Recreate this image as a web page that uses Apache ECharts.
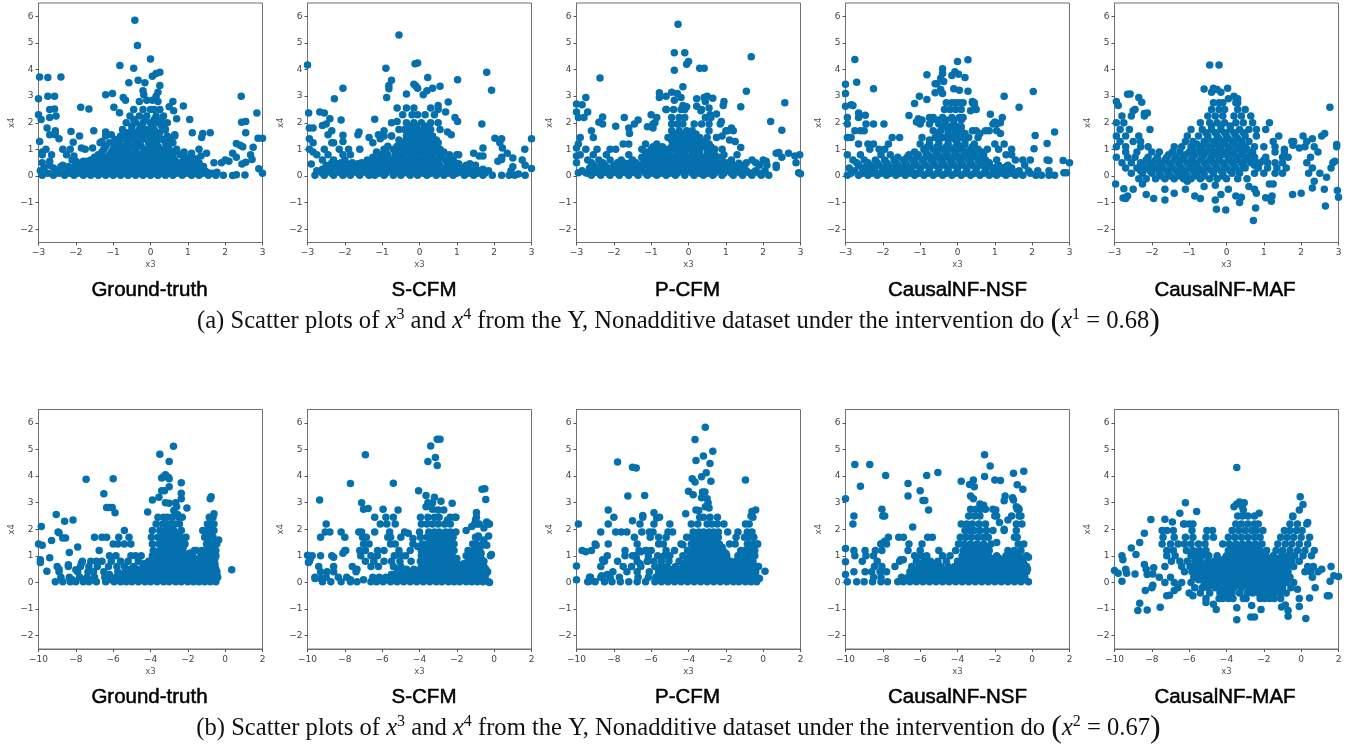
<!DOCTYPE html>
<html><head><meta charset="utf-8">
<style>html,body{margin:0;padding:0;background:#fff}#c{width:1356px;height:747px}</style>
<script src="https://cdn.jsdelivr.net/npm/echarts@6/dist/echarts.min.js"></script></head>
<body><div id="c"></div>
<script>
const methods=['Ground-truth','S-CFM','P-CFM','CausalNF-NSF','CausalNF-MAF'];
const xTicksA=[-3,-2,-1,0,1,2,3];
const xTicksB=[-10,-8,-6,-4,-2,0,2];
const yTicks=[-2,-1,0,1,2,3,4,5,6];
// each row: first value is x4, the rest are x3 readings in that x4 strip
const gtARows=[[.03,-2.9,-2.6,-2.3,-2.05,-1.8,-1.6,-1.4,-1.2,-1,-.8,-.6,-.4,-.2,0,.2,.4,.6,.85,1.1,1.3,1.55,1.75,1.95],
[.2,-2.95,-2.5,-2.2,-1.9,-1.7,-1.45,-1.25,-1.05,-.85,-.65,-.45,-.25,-.05,.15,.35,.55,.75,1,1.2,1.45],
[.4,-2.7,-2.35,-2,-1.75,-1.5,-1.3,-1.1,-.9,-.7,-.5,-.3,-.1,.1,.3,.5,.7,1.05,1.25],
[.6,-2.1,-1.6,-1.35,-1.15,-.95,-.75,-.55,-.35,-.15,.05,.25,.45,.65,1,1.15],
[.8,-2.9,-2.65,-2.25,-1.4,-1.1,-.9,-.7,-.5,-.3,-.1,.15,.35,.55,.8],
[1,-2.8,-2.35,-2.15,-1.75,-1.25,-1,-.8,-.6,-.4,-.15,.1,.3,.5,.7],
[1.25,-1.35,-1.1,-.85,-.6,-.35,-.05,.15,.4,.6],
[1.5,-1.2,-.8,-.55,-.3,-.05,.15,.45,.65],
[1.75,-.75,-.5,-.3,-.1,.1,.4],
[2,-.65,-.4,-.2,0,.2,.45],
[2.25,-.55,-.3,-.1,.15,.35],
[2.5,-.45,-.2,0,.1,.25]];
const gtAFill=[[.1,-2.75,-2.45,-2.15,-1.95,-1.7,-1.5,-1.3,-1.1,-.9,-.7,-.5,-.3,-.1,.1,.3,.5,.7,.95,1.2,1.4,1.65],
[.3,-2.85,-2.6,-2.1,-1.85,-1.6,-1.4,-1.15,-.95,-.75,-.55,-.35,-.15,.05,.25,.45,.65,.9,1.1,1.35],
[.5,-1.95,-1.45,-1.25,-1.05,-.85,-.65,-.45,-.25,-.05,.15,.35,.55,.75,1.15,1.3],
[.7,-1.5,-1.25,-1.05,-.85,-.6,-.4,-.2,0,.2,.4,.6,.9,1.05],
[.9,-1.3,-1.05,-.85,-.65,-.4,-.2,0,.25,.45,.65],
[1.12,-1.2,-.95,-.7,-.5,-.25,0,.2,.45],
[1.38,-.95,-.7,-.45,-.2,.05,.3,.5],
[1.62,-.65,-.4,-.2,0,.25],
[1.88,-.5,-.25,.05,.3],
[2.12,-.45,-.15,.1,.3],
[.14,-2.55,-2.28,-2,-1.78,-1.55,-1.35,.85,1.08,1.32,1.52,1.78],
[.36,-2.4,-2.2,-1.95,-1.68,-1.45,.82,1,1.2,1.42],
[.55,-1.8,-1.7,-1.55,.88,1.08]];
const gtAPts=[[-.42,5.85],[-.35,4.9],[0,4.4],[-.82,4.15],[-.45,4.05],[-2.97,3.72],[-2.75,3.7],[-2.4,3.72],[-.58,3.5],[-.33,3.6],[-.15,3.5],[.05,3.75],[.15,3.85],[.25,3.9],[.25,3.4],[-2.75,3],[-2.57,3],[-2.7,2.5],[-2.57,2.52],[-2.7,2.2],[-2.53,2.25],[-2.93,2.12],[-3,2.3],[-3,2.9],[-2.77,1.8],[-2.55,1.7],[-2.7,1.55],[-2.55,1.55],[-2.45,1.4],[-2.97,1.3],[-1.87,2.58],[-1.65,2.52],[-1.52,1.7],[-2.13,1.67],[-1.9,1.5],[-2.07,1.27],[-1.2,3.05],[-1.02,3.1],[-.73,2.95],[-.67,2.85],[-.98,2.58],[-.83,2.38],[-.2,3.2],[-.18,3.05],[.2,3.15],[.15,3],[-.3,2.8],[-.1,2.85],[.05,2.85],[.2,2.8],[.5,2.6],[.6,2.8],[.88,2.63],[.62,2.45],[.7,2.15],[1.05,2.12],[1.12,1.62],[1.37,1.45],[1.4,1.6],[1.6,1.62],[2.43,3],[2.44,2.02],[2.55,2.05],[2.55,1.62],[2.85,2.37],[2.88,1.42],[3,1.42],[2.75,1.08],[2.3,1.22],[2.4,1.15],[2.47,1.1],[2.68,.8],[2.72,.62],[2.2,.85],[2.1,.55],[2,.6],[1.9,.5],[1.7,.5],[2.3,.7],[2.55,.52],[2.45,.45],[2.53,.04],[2.9,.27],[3,.1],[2.3,.05],[2.2,.02],[1.3,1],[1.5,.85],[1.1,.85],[.9,.9],[.65,1.55],[-1.55,1.05],[-1.85,1.05],[-1.3,1.3],[-1.2,1.65],[-1.05,1.55],[-2.9,.9],[-2.9,.5],[-2.7,.55],[-2.05,.75],[-2,.55],[1.35,.75],[1.2,.65]];
const scfmARows=[[.03,-2.8,-2.55,-2.3,-2.05,-1.85,-1.6,-1.35,-1.2,-.95,-.7,-.5,-.25,-.05,.2,.45,.65,.9,1.2,1.45,1.7,1.95,2.2,2.4],
[.2,-2.75,-2.4,-2.15,-1.95,-1.7,-1.45,-1.2,-1,-.8,-.6,-.4,-.2,0,.2,.4,.6,.85,1.1,1.35,1.6,1.85],
[.4,-2.5,-2.25,-2,-1.75,-1.5,-1.25,-1.05,-.85,-.65,-.45,-.25,-.05,.15,.35,.55,.75,.95,1.25,1.5],
[.6,-2.6,-2.3,-2,-1.4,-1.15,-.95,-.75,-.55,-.35,-.15,.05,.25,.45,.7,.9],
[.8,-2.75,-2.45,-2.05,-1.85,-1.05,-.85,-.65,-.45,-.25,-.05,.15,.35,.55,.8,1],
[1,-2.95,-2.55,-2.15,-1.9,-1.6,-.95,-.7,-.5,-.3,-.1,.1,.3,.55],
[1.25,-2.85,-2.35,-1.25,-.45,-.25,-.05,.15,.35,.5],
[1.5,-.95,-.75,-.35,-.2,0,.2,.35],
[1.75,-.4,-.2,-.05,.1,.3,.55],
[2,-.35,-.15,.05,.3,.5],
[2.3,-.45,-.2,-.05,.15,.4],
[2.55,-.6,-.35,-.15,.3]];
const scfmAFill=[[.1,-2.6,-2.35,-2.1,-1.9,-1.65,-1.4,-1.1,-.9,-.7,-.45,-.3,-.1,.1,.3,.5,.75,1,1.3,1.55,1.75],
[.3,-2.4,-2.2,-1.85,-1.6,-1.35,-1.1,-.9,-.7,-.5,-.3,-.1,.1,.3,.5,.7,.9,1.15,1.4],
[.5,-2.35,-2.1,-1.8,-1.55,-1.3,-1.1,-.9,-.7,-.5,-.3,-.1,.1,.3,.5,.75,.95],
[.7,-1.25,-1.05,-.85,-.65,-.45,-.25,-.05,.15,.35,.6,.8],
[.9,-1.15,-.9,-.6,-.4,-.2,0,.2,.45,.65],
[1.12,-.85,-.6,-.35,-.15,.05,.25,.45],
[1.35,-.55,-.35,-.15,.05,.25,.45],
[1.6,-.3,-.1,.1,.25],
[1.88,-.25,-.1,.15],
[.14,-2.5,-2.25,-2,-1.8,-1.55,-1.3,.85,1.05,1.25],
[.25,-2.6,-2.3,-2.05,-1.8,-1.55,.95,1.2,1.45,1.7],
[.46,-2.2,-1.95,-1.65,-1.4,.85,1.05,1.35]];
const scfmAPts=[[-.55,5.3],[-3,4.17],[-.9,4.05],[-.12,4.22],[-.05,4.25],[1.02,3.62],[1.8,3.9],[1.93,3.22],[.22,3.7],[-.75,3.6],[-.82,3.4],[-.82,3.28],[-.88,2.95],[-.35,3.08],[-.15,3.45],[-.1,3.38],[-.05,3.3],[.1,3.05],[.2,3.2],[.35,3.3],[.55,3.37],[-2.05,3.3],[-2.28,2.9],[-2.97,2.37],[-2.67,2.4],[-2.55,2.37],[-2.4,2.15],[-2.1,2.1],[-2.5,1.95],[-2.6,1.9],[-2.35,1.7],[-2.45,1.55],[-2.95,1.8],[-2.85,1.8],[-2.05,1.53],[-1.62,1.65],[-1.65,1.55],[-1.2,2.13],[-.75,2],[-.6,2.05],[-.55,1.75],[.77,2.78],[.7,2.4],[.5,2.65],[.5,2.5],[.95,2.2],[1.02,2.05],[.85,1.55],[.75,1.65],[1.67,1.95],[2.02,1.42],[2.2,1.4],[2.15,1.25],[2.22,1.05],[1.7,1.05],[2.82,1],[3,1.4],[3,.28],[2.75,.6],[2.83,.4],[2.83,.03],[2.55,.03],[2.65,.07],[2.5,.68],[2.35,.85],[2.2,.7],[2.1,.55],[2.2,.62],[2.5,.35],[2.45,.2],[1.45,.85],[1.6,.75],[1.7,.75],[1.05,.8],[-2.95,1.4],[-2.9,.45],[-2.85,.9],[-.95,1.7],[-.75,1.5],[-1.1,1.55],[-1.05,1.4],[-1.35,1.45],[-2.3,1.25],[-2.05,1.3]];
const pcfmARows=[[.03,-2.6,-2.35,-2.1,-1.85,-1.6,-1.35,-1.1,-.85,-.6,-.35,-.1,.15,.4,.65,.9,1.2,1.45,1.7,1.95,2.15],
[.2,-2.85,-2.5,-2.2,-1.95,-1.7,-1.45,-1.2,-1,-.8,-.6,-.4,-.2,0,.2,.4,.6,.8,1,1.3,1.55,1.8,2.05],
[.4,-2.55,-2.25,-2,-1.75,-1.5,-1.25,-1.05,-.85,-.65,-.45,-.25,-.05,.15,.35,.55,.75,.95,1.2,1.5,1.9,2.1,2.35],
[.6,-2.7,-2.4,-2.1,-1.8,-1.5,-1.15,-.95,-.75,-.55,-.35,-.15,.05,.25,.45,.65,.9,1.15,1.7,2],
[.8,-2.9,-2.55,-2.2,-1.6,-1.1,-.9,-.7,-.5,-.3,-.1,.1,.3,.5,.7,.95,1.3],
[1,-2.75,-2.45,-2.1,-1.95,-1.25,-1,-.8,-.6,-.35,-.15,.05,.25,.5,.7,.9],
[1.2,-2.95,-1.75,-1.6,-1.15,-.85,-.3,-.15,.05,.2,.45,.55],
[1.45,-2.9,-2.55,-.55,-.35,-.1,.1,.3,.5,.75],
[1.7,-2.6,-.45,-.25,-.05,.1,.55,1.05,1.2],
[1.95,-1.45,-.95,-.45,-.3,-.15,.15,.35,.55,.85],
[2.2,-2.95,-2.8,-.85,-.45,-.25,-.1,.45,.6],
[2.5,-.6,-.4,-.2,-.1,.35]];
const pcfmAFill=[[.1,-2.7,-2.4,-2.15,-1.9,-1.65,-1.4,-1.15,-.95,-.75,-.5,-.3,-.1,.1,.3,.5,.7,.95,1.15,1.4,1.65,1.9],
[.3,-2.65,-2.35,-2.05,-1.8,-1.55,-1.3,-1.1,-.9,-.7,-.5,-.3,-.1,.1,.3,.5,.7,.9,1.1,1.4],
[.5,-2.6,-2.3,-1.9,-1.4,-1.2,-1,-.8,-.6,-.4,-.2,0,.2,.4,.6,.8,1.05],
[.7,-1.25,-1.05,-.85,-.65,-.45,-.25,-.05,.15,.35,.55,.8],
[.9,-1.15,-.95,-.75,-.5,-.3,-.1,.1,.3,.6],
[1.1,-.95,-.7,-.45,-.25,-.05,.15,.35,.6],
[1.32,-.45,-.25,-.05,.15,.35],
[1.58,-.4,-.2,0,.2],
[.14,-2.5,-2.25,-2,-1.75,-1.5,.95,1.25,1.5,1.75],
[.34,-2.45,-2.2,-1.95,-1.65,-1.45,1,1.25],
[.48,-1.7,-1.6,1.15,1.35]];
const pcfmAPts=[[-.28,5.7],[-.38,4.63],[-.1,4.63],[1.68,4.48],[-.05,4.2],[0,4.3],[-.38,3.97],[.3,4.05],[.42,4.05],[-2.37,3.68],[-.15,3.35],[-.78,3.13],[-.45,3.15],[-.3,3.1],[-.78,2.95],[-.6,3],[1.55,3.18],[2.58,2.75],[-2.75,2.95],[-3,2.7],[-2.85,2.68],[-2.7,2.4],[-3,2.4],[-2.3,2.22],[-2.4,2.02],[-2.3,1.95],[-1.72,2.2],[-1.35,2.1],[-1.95,1.87],[-1.6,1.8],[-1.58,1.6],[-1,2.3],[-1.1,1.85],[-.6,2.5],[-.38,2.85],[-.2,2.95],[-.15,2.65],[-.05,2.6],[.22,2.9],[.22,2.62],[.33,2.45],[.42,2.95],[.5,3],[.45,2.8],[.65,2.92],[.55,2.55],[.95,2.8],[.93,2.65],[1.4,2.6],[.75,2.33],[.58,2.3],[.88,2.05],[2.2,2.05],[2.5,1.72],[1,1.7],[1.15,1.8],[1.25,1.3],[1.4,1.07],[1.1,1.35],[2.35,.85],[2.42,.88],[2.5,.7],[2.68,.85],[2.85,.75],[2.98,.8],[2.88,.5],[2.95,.12],[3,.08],[2.35,.32],[2.08,.55],[1.8,.5],[1.55,.5],[-3,1.05],[-3,.75],[-3,.5],[-2.75,.12],[-2.95,.12],[-.95,1.8],[-.9,2],[.9,1.5]];
const nsfARows=[[.03,-2.95,-2.65,-2.4,-2.15,-1.9,-1.65,-1.4,-1.15,-.9,-.65,-.4,-.15,.1,.35,.6,.85,1.05,1.3,1.55,1.75,2.1,2.25,2.45,2.6],
[.2,-2.75,-2.5,-2.25,-2,-1.75,-1.5,-1.25,-1,-.75,-.5,-.25,0,.25,.5,.75,1,1.25,1.45,1.65,1.9,2.15,2.45],
[.4,-2.65,-2.35,-2.1,-1.85,-1.6,-1.35,-1.1,-.85,-.6,-.35,-.1,.15,.4,.65,.85,1.1,1.35,1.8],
[.6,-2.8,-2.5,-2.2,-1.95,-1.7,-1.45,-1.2,-.95,-.7,-.45,-.2,.05,.3,.55,.75,1.05,1.55,1.75,1.95],
[.8,-2.95,-2.6,-2.05,-1.8,-1.3,-1.05,-.8,-.55,-.3,-.05,.2,.45,.7,1.3,1.45],
[1,-2.35,-2.1,-1.95,-.9,-.65,-.4,-.15,.1,.35,.55,.8,1.1,1.45],
[1.2,-2.65,-2.4,-2.25,-1.85,-1,-.75,-.5,-.25,0,.2,.45,1,1.25],
[1.45,-2.95,-2.85,-1.75,-1.55,-.95,-.6,-.4,-.15,.05,.3,.55],
[1.7,-2.75,-2.6,-2.5,-.65,-.45,-.25,-.05,.1,.4,.5,.75],
[1.95,-2.95,-2.45,-2.25,-1.97,-1,-.75,-.5,-.35,-.1,.95,1.05],
[2.2,-2.65,-.65,-.4,-.15,.05,.15,1.2],
[2.5,-.35,-.2,-.05,.1,.5],
[2.75,-.3,-.15,-.05,.05,.15,.4,.45]];
const nsfAFill=[[.1,-2.85,-2.55,-2.3,-2.05,-1.8,-1.55,-1.3,-1.05,-.8,-.55,-.3,-.05,.2,.45,.7,.95,1.2,1.4,1.65,1.95],
[.3,-2.9,-2.55,-2.3,-2,-1.75,-1.5,-1.25,-1,-.75,-.5,-.25,0,.25,.5,.75,.95,1.2,1.45],
[.5,-2.7,-2.4,-2.15,-1.9,-1.65,-1.4,-1.15,-.9,-.65,-.4,-.15,.1,.35,.6,.85],
[.7,-1.6,-1.35,-1.1,-.85,-.6,-.35,-.1,.15,.4,.6],
[.9,-1.15,-.85,-.55,-.3,-.05,.2,.4,.65],
[1.1,-.8,-.55,-.3,-.05,.15,.4],
[1.35,-.75,-.5,-.25,-.05,.2],
[1.6,-.55,-.25,-.05,.2],
[1.85,-.4,-.2,0,.1],
[2.1,-.3,-.1,.1],
[.14,-2.45,-2.2,-1.95,-1.7,-1.45,-1.2,1.1,1.3,1.55],
[.35,-2.45,-2.2,-1.9,-1.65,-1.4,.85,1.05,1.3],
[.72,-.7,-.45,-.2,.05,.3]];
const nsfAPts=[[-2.75,4.38],[.28,4.37],[0,4.3],[-.4,4.03],[-.4,3.85],[-.07,3.92],[.03,3.82],[-.15,3.78],[.2,3.7],[-.45,3.67],[-.37,3.55],[-.82,3.8],[-2.7,3.52],[-3,3.45],[-3,3.1],[-.6,3.47],[-.55,3.47],[-.45,3.25],[-.4,3.1],[-.6,3.13],[-.1,3.28],[.05,3.22],[.28,3.18],[-2.25,3.28],[-1.02,3],[-.82,2.87],[-1.15,2.72],[.4,2.8],[.45,2.68],[.48,2.52],[-2.85,2.68],[-2.8,2.65],[-3,2.62],[-2.65,2.37],[-2.47,2.28],[-2.95,2.2],[-1.3,2.27],[-1.1,2.03],[-1.05,2.15],[.88,2.32],[1,2.03],[1.15,2],[1.25,3],[2.03,3.17],[1.65,2.58],[2.6,1.65],[1.15,1.6],[2.08,1.52],[2.05,1.02],[2.4,1.22],[2.4,.6],[2.45,.58],[2.83,.58],[3,.5],[2.85,.12],[2.92,.12],[1.05,1.7],[.85,1.7],[-.95,2.1],[-.75,2.2],[-.7,2.1],[-.55,2.1],[.35,2.45],[.6,1.6]];
const mafARows=[[-.1,-2.35,-2.15,-1.9,-1.65,-1.4,-1.15,-.95,-.7,-.45,-.25,0,.3,.55],
[.1,-2.55,-2.25,-2,-1.8,-1.55,-1.3,-1.1,-.8,-.6,-.35,-.1,.15,.35,.75,1,1.3,1.5,2.2,2.5],
[.3,-2.7,-2.4,-2.15,-1.9,-1.7,-1.45,-1.2,-1,-.75,-.5,-.25,0,.25,.5,.85,1.1,1.35,1.6,2.3,2.8],
[.5,-2.8,-2.55,-2.3,-2.05,-1.8,-1.55,-1.3,-1.05,-.85,-.6,-.35,-.1,.15,.4,.65,.9,1.1,1.3,1.5,2.15,2.85],
[.7,-2.95,-2.65,-2.45,-2.1,-1.85,-1.6,-1.35,-1.15,-.9,-.65,-.4,-.2,.05,.3,.55,.75,1.05,1.5,1.65,2.25],
[.9,-2.7,-2.4,-2,-1.8,-1.45,-1.25,-1,-.75,-.5,-.25,0,.2,.45,.7,1.3,1.55,2.45],
[1.1,-2.95,-2.7,-2.3,-2.1,-1.4,-1.2,-.95,-.7,-.45,-.2,.05,.3,.5,.75,1,1.3,2.1,2.35,2.95],
[1.3,-2.85,-2.5,-2.3,-1.1,-.9,-.6,-.35,-.1,.15,.4,.6,1.25,1.75,2.15],
[1.5,-2.95,-2.7,-2.35,-1.05,-.75,-.5,-.25,0,.25,.5,.8,1.4,2.05,2.55],
[1.75,-2.85,-2.6,-2.05,-.95,-.65,-.4,-.15,.1,.35,.6,.8,1.05],
[2,-2.95,-2.75,-.7,-.45,-.25,-.05,.25,.45,.7,1.15],
[2.25,-2.8,-2.55,-2.2,-.5,-.3,-.1,.2,.4,.65],
[2.5,-2.45,-.4,-.2,-.05,.3,.5],
[2.75,-.35,-.2,-.1,.25,.3]];
const mafAFill=[[.2,-2.3,-2.05,-1.8,-1.6,-1.35,-1.15,-.9,-.65,-.4,-.15,.1,.35],
[.4,-2.25,-2,-1.75,-1.5,-1.25,-1,-.8,-.55,-.3,-.05,.2,.45,.75],
[.6,-2.15,-1.9,-1.65,-1.4,-1.2,-.95,-.7,-.45,-.2,.05,.25,.5,.75,1],
[.8,-1.1,-.85,-.6,-.35,-.1,.15,.4,.65],
[1,-.9,-.65,-.4,-.15,.1,.35,.55],
[1.2,-.8,-.55,-.3,-.05,.2,.4],
[0,-1.75,-1.5,-1.25,-1.05,-.85,-.6,-.1],
[1.4,-.5,-.2,.05,.3],
[1.62,-.55,-.3,-.05,.2,.45],
[1.88,-.4,-.15,.1]];
const mafAPts=[[-.45,4.17],[-.2,4.17],[-.35,3.3],[-.25,3.25],[-.6,3.27],[-.4,3.15],[-.15,3.15],[.03,3.3],[.2,3],[.3,2.9],[.05,2.9],[-2.65,3.07],[-2.58,3.08],[-2.35,2.95],[-2.27,2.77],[-2.95,2.8],[-2.9,2.65],[-2.5,2.45],[-2.2,2.35],[-2.12,2.37],[2.77,2.58],[2.63,1.6],[2.95,1.18],[2.9,.55],[-1.05,-.2],[-.6,-.4],[-.3,-.35],[-.7,-.85],[-.85,-.75],[-1.1,-.5],[-1.4,-.65],[-1.65,-.9],[-1.95,-.85],[-2.15,-.7],[-2.65,-.75],[-2.7,-.85],[-2.77,-.83],[-2.97,-.3],[-2.75,-.48],[-2.5,-.5],[-1.65,-.5],[-2.25,-.3],[-.3,-.9],[-.27,-1.25],[-.02,-1.28],[-.15,-.7],[.05,-.5],[.25,-.75],[.35,-1],[.4,-.8],[.6,-.4],[.75,-.5],[.8,-.65],[.78,-1.2],[.72,-1.67],[1.05,-.82],[1.2,-.95],[1.22,-.75],[1.15,-.3],[1.25,-.3],[1.77,-.7],[2,-.65],[2.35,-.2],[2.3,-.45],[2.62,-.5],[2.65,-1.13],[2.68,-.05],[2.97,-.55],[3,-.8],[-1.55,.8],[1.8,1.3],[1.78,1.15],[1.55,1],[1.95,1.05],[2.3,1.4]];
const gtBRows=[[.03,-9.1,-8.7,-8.3,-8,-7.6,-7.3,-6.9,-6.4,-5.95,-5.6,-5.3,-5,-4.65,-4.3,-4,-3.65,-3.3,-3,-2.65,-2.35,-2,-1.7,-1.4,-1.1,-.8,-.5],
[.2,-8.8,-8.35,-7.8,-7.4,-7,-6.45,-5.85,-5.4,-5.05,-4.7,-4.4,-4.05,-3.7,-3.35,-3.05,-2.75,-2.45,-2.1,-1.8,-1.5,-1.2,-.9,-.6,-.4],
[.4,-8.9,-7.9,-7.35,-7.05,-6.5,-5.75,-5.35,-5,-4.6,-4.25,-3.9,-3.55,-3.2,-2.9,-2.55,-2.25,-1.95,-1.65,-1.35,-1.05,-.75,-.45],
[.6,-9,-8.4,-7.75,-7.3,-6.85,-6.25,-5.8,-5.4,-4.9,-4.4,-4,-3.7,-3.4,-3.05,-2.7,-2.4,-2.1,-1.8,-1.5,-1.15,-.85,-.55],
[.8,-7.65,-7.2,-6.9,-6.6,-6.1,-5.6,-5.2,-4.65,-4.1,-3.75,-3.45,-3.1,-2.75,-2.45,-2.15,-1.85,-1.6,-1.2,-.95,-.65],
[1,-6.2,-5.85,-5.05,-4.8,-4.5,-3.9,-3.6,-3.3,-3,-2.7,-2.4,-2.1,-1.75,-1.3,-1,-.7,-.5],
[1.2,-6.75,-3.85,-3.5,-3.25,-2.95,-2.6,-2.3,-1.65,-1.25,-1,-.75,-.5],
[1.45,-6,-5.75,-5.4,-5.05,-3.9,-3.55,-3.25,-3,-2.7,-2.4,-2.15,-1,-.8,-.45],
[1.7,-7,-6.6,-6.35,-5.7,-5.15,-3.95,-3.6,-3.3,-3.05,-2.75,-2.4,-2.1,-1.1,-.85,-.65],
[1.95,-5.4,-3.9,-3.5,-3.2,-3,-2.75,-2.35,-1.2,-.95,-.75,-.6],
[2.2,-3.7,-3.35,-3.15,-2.9,-2.7,-2.45,-.95,-.8,-.6],
[2.45,-3.6,-3.3,-3.1,-2.85,-2.5,-2.3,-.85,-.65]];
const gtBFill=[[.1,-4.9,-4.55,-4.2,-3.85,-3.5,-3.15,-2.85,-2.5,-2.2,-1.85,-1.55,-1.25,-.95,-.65,-6.1,-5.7,-5.35,-7.5,-7.1,-8.2],
[.3,-4.8,-4.5,-4.15,-3.8,-3.5,-3.15,-2.8,-2.5,-2.2,-1.9,-1.6,-1.25,-.95,-.65,-.45,-5.55,-5.15,-6.2],
[.5,-4.3,-3.95,-3.65,-3.3,-3,-2.65,-2.3,-2,-1.7,-1.4,-1.1,-.8,-.5,-4.7,-5.1],
[.7,-3.95,-3.55,-3.25,-2.9,-2.6,-2.3,-2,-1.7,-1.4,-1.1,-.8,-.55,-4.35],
[.9,-3.85,-3.5,-3.2,-2.9,-2.6,-2.3,-2,-1.65,-1.35,-1.05,-.8,-.55],
[1.1,-3.7,-3.4,-3.1,-2.8,-2.5,-2.2,-1.85,-1.1,-.85,-.6],
[1.32,-3.4,-3.1,-2.8,-2.5,-2.25,-.85,-.65],
[1.58,-3.4,-3.1,-2.85,-2.55,-2.25,-.9,-.7],
[1.85,-3.35,-3.1,-2.85,-2.6]];
const gtBPts=[[-2.77,5.12],[-3.5,4.82],[-3,4.55],[-7.45,3.88],[-6,3.9],[-3.4,3.93],[-3.3,3.97],[-3.2,4.05],[-3.05,3.95],[-3,3.9],[-2.35,3.75],[-3,3.6],[-3.4,3.45],[-3.25,3.45],[-6.5,3.33],[-2.35,3.35],[-2.35,3.15],[-3.55,3.2],[-3.9,3.1],[-.75,3.22],[-.8,3.15],[-3.2,3],[-3,2.98],[-2.65,3],[-2.6,2.85],[-6.35,2.82],[-6.2,2.82],[-6.05,2.82],[-5.9,2.62],[-2.05,2.8],[-4.15,2.65],[-2.75,2.7],[-2.55,2.55],[-.6,2.58],[-9.05,2.55],[-8.6,2.3],[-8.15,2.35],[-9.85,2.1],[-8.95,1.9],[-8.9,1.87],[-8.7,1.67],[-8.55,1.67],[-9.3,1.58],[-10,1.45],[-9.8,1.4],[-7.9,1.33],[-8.35,1.13],[-9.9,.85],[-9.9,.75],[-9.4,.93],[-9.55,.42],[-8.4,.67],[-8,.48],[.35,.48],[-.35,1.6],[-1.9,1.1],[-1.55,1.2],[-7.7,.72],[-8.9,.5]];
const scfmBRows=[[.03,-9.2,-8.75,-8.2,-7.7,-7.35,-6.6,-6.3,-5.95,-5.55,-5.2,-4.85,-4.5,-4.15,-3.8,-3.45,-3.1,-2.8,-2.45,-2.15,-1.85,-1.5,-1.2,-.9,-.6,-.3],
[.2,-9.6,-9,-8.35,-7.9,-6.5,-6.15,-5.8,-5.3,-5,-4.65,-4.3,-3.95,-3.6,-3.25,-2.95,-2.65,-2.3,-2,-1.7,-1.35,-1.05,-.75,-.5],
[.4,-9.3,-8.95,-8.6,-7.4,-5.2,-4.8,-4.45,-4.1,-3.75,-3.4,-3.1,-2.8,-2.45,-2.15,-1.85,-1.55,-1.2,-.9,-.6,-.35],
[.6,-9.4,-8.6,-7.6,-6.6,-6.2,-5.4,-5,-3.9,-3.6,-3.3,-3,-2.7,-2.4,-2.1,-1.75,-1.45,-1.15,-.85,-.55],
[.8,-9.9,-6.9,-6.45,-5.9,-5.5,-5.05,-4.45,-3.95,-3.65,-3.35,-3.05,-2.75,-2.45,-2.15,-1.4,-1.1,-.8,-.55],
[1,-9.75,-9.3,-8.7,-7.15,-6.6,-6.25,-5.35,-5,-4.75,-3.9,-3.55,-3.25,-2.95,-2.65,-2.3,-1.5,-1.2,-.9,-.2],
[1.2,-8,-7.2,-6.9,-6.25,-5.9,-5.1,-4.5,-3.9,-3.6,-3.3,-3,-2.7,-2.4,-2.15,-1.4,-1.1,-.85],
[1.45,-7,-6.7,-5.55,-5.3,-4.35,-3.85,-3.55,-3.25,-3,-2.7,-2.4,-2.15,-1.15,-.95,-.6],
[1.7,-9.3,-8,-7.05,-6.85,-5.7,-5.55,-5,-3.95,-3.6,-3.3,-3,-2.75,-2.45,-2.2,-1,-.85],
[1.9,-9.05,-8.8,-8.2,-7.25,-7.1,-6.4,-5.6,-4.8,-4,-3.5,-3.2,-2.95,-2.6,-2.35,-2.05],
[2.2,-9,-6.1,-5.75,-5.3,-3.9,-3.6,-3.3,-3,-2.65,-2.35,-1.05,-.9,-.3],
[2.45,-6.4,-5.8,-5.4,-3.95,-3.55,-3.2,-2.95,-2.35,-2.05,-.95]];
const scfmBFill=[[.1,-6,-5.7,-5.4,-5.1,-4.75,-4.4,-4.05,-3.7,-3.35,-3,-2.65,-2.35,-2,-1.7,-1.4,-1.1,-.8,-.55],
[.3,-5.5,-4.9,-4.55,-4.2,-3.85,-3.5,-3.15,-2.85,-2.55,-2.2,-1.9,-1.6,-1.3,-1,-.7,-.45],
[.5,-5.1,-4.7,-4.3,-3.95,-3.6,-3.3,-3,-2.65,-2.35,-2,-1.7,-1.35,-1.05,-.75,-.45],
[.7,-3.85,-3.5,-3.2,-2.9,-2.6,-2.3,-2,-1.65,-1.35,-1.05,-.7],
[.9,-3.8,-3.5,-3.2,-2.9,-2.6,-2.3,-2,-1.25,-1,-.7],
[1.1,-3.75,-3.45,-3.15,-2.85,-2.55,-2.25,-1.3,-1,-.7],
[1.32,-3.7,-3.4,-3.1,-2.85,-2.55,-2.25,-1,-.75],
[1.58,-3.4,-3.1,-2.85,-2.55,-2.3]];
const scfmBPts=[[-3.05,5.38],[-2.9,5.38],[-3.4,5.13],[-6.9,4.8],[-3.15,4.7],[-3.55,4.55],[-3.05,4.4],[-7.7,3.72],[-5.4,3.73],[-4.05,3.45],[-.65,3.5],[-.5,3.52],[-.45,3.12],[-9.35,3.1],[-7.1,3],[-3.65,3.27],[-3.2,3.2],[-3.55,3],[-3.3,3],[-2.85,3.05],[-2.25,2.98],[-3.65,2.85],[-7,2.75],[-6.75,2.78],[-5.95,2.75],[-5.15,2.72],[-3.3,2.75],[-3,2.72],[-2.7,2.72],[-.95,2.63],[-2.5,2.35],[-2.1,2.45],[-1.5,1.95],[-1.2,2.1],[-.55,2.05],[-.4,2.27],[-.25,2.2],[-.3,1.75],[-1,2.35],[-.8,2.2],[-.85,1.75],[-.55,1.6],[-.4,1.4],[-10,1.02],[-9.85,.9],[-9.95,.75],[-9.6,.15],[-9.3,.15],[-7.7,.1],[-7,.1],[-7.35,.5],[-8.6,.95],[-8.1,1.1],[-7.95,1.2],[-4.6,1.85],[-4.35,1.65],[-4.1,1.35],[-.15,1.05],[-.25,0]];
const pcfmBRows=[[.03,-9.4,-9,-8.5,-8.1,-7.65,-7.2,-6.75,-6.3,-5.8,-5.45,-5.1,-4.75,-4.4,-4.05,-3.7,-3.35,-3,-2.65,-2.3,-1.95,-1.6,-1.3,-.95,-.65,-.35],
[.2,-9.25,-8.7,-8.2,-7.7,-6.7,-6.15,-5.75,-5.35,-5,-4.65,-4.3,-3.95,-3.6,-3.25,-2.95,-2.6,-2.25,-1.95,-1.65,-1.3,-1,-.7,-.35],
[.4,-8.05,-7.3,-6.75,-6.1,-5.6,-5.25,-4.9,-4.55,-4.2,-3.85,-3.5,-3.2,-2.85,-2.5,-2.2,-1.85,-1.55,-1.25,-.95,-.65,-.4],
[.6,-8.7,-7.5,-7.05,-6.55,-5.8,-5.5,-5.15,-4.7,-4.3,-3.95,-3.6,-3.3,-3,-2.65,-2.35,-2,-1.7,-1.4,-1.1,-.8,-.5,-.3],
[.8,-8.5,-7.8,-6.2,-5.85,-5.45,-5.05,-4.5,-4.1,-3.75,-3.4,-3.1,-2.75,-2.45,-2.1,-1.75,-1.45,-1.15,-.85,-.55],
[1,-8.35,-7.4,-7,-6.85,-6.15,-5.65,-5.3,-5,-4.3,-3.9,-3.55,-3.25,-2.95,-2.6,-2.3,-1.95,-1.35,-1.05,-.75,-.45],
[1.2,-9.7,-9.2,-7.4,-6.65,-6.25,-6,-5.2,-4.75,-4.05,-3.7,-3.4,-3.1,-2.8,-2.45,-2.15,-1.2,-.95,-.7,-.45],
[1.45,-9,-8.3,-6.75,-5.35,-4.4,-3.85,-3.55,-3.25,-2.95,-2.65,-2.35,-1.8,-1.5,-.85,-.55,-.3],
[1.7,-6.9,-6.05,-5.6,-5.2,-4.1,-3.85,-3.5,-3.2,-2.95,-2.65,-2.4,-1.45,-1,-.75,-.5],
[1.9,-8.7,-7.9,-7.6,-7.3,-6.5,-6.1,-5.9,-5.1,-4.85,-3.75,-3.45,-3.2,-2.9,-2.65,-2.4,-1.9,-1.35,-.85,-.6],
[2.2,-9.9,-8.3,-6.6,-5.85,-5,-3.85,-3.5,-3,-2.75,-2.45,-2.1,-.95,-.75],
[2.45,-8,-6.45,-5.55,-3.4,-3.2,-2.85,-2.45,-.55]];
const pcfmBFill=[[.1,-5.6,-5.25,-4.9,-4.55,-4.2,-3.85,-3.5,-3.15,-2.8,-2.45,-2.1,-1.8,-1.45,-1.15,-.8,-.5],
[.3,-5.5,-5.15,-4.8,-4.45,-4.1,-3.75,-3.4,-3.05,-2.7,-2.4,-2.05,-1.75,-1.45,-1.1,-.8,-.5],
[.5,-5.35,-5,-4.6,-4.1,-3.75,-3.45,-3.1,-2.8,-2.5,-2.15,-1.8,-1.5,-1.2,-.85,-.55],
[.7,-4.2,-3.85,-3.5,-3.2,-2.85,-2.55,-2.25,-1.9,-1.6,-1.25,-.95,-.65],
[.9,-4,-3.65,-3.3,-3,-2.7,-2.35,-2.05,-1.2,-.9,-.6],
[1.1,-3.8,-3.5,-3.2,-2.9,-2.6,-2.3,-2,-1.1,-.85,-.55],
[1.32,-3.7,-3.4,-3.1,-2.8,-2.5,-2.2],
[1.58,-3.65,-3.35,-3.05,-2.8,-2.5]];
const pcfmBPts=[[-3.1,5.83],[-3.65,5.37],[-2.7,4.93],[-3.2,4.75],[-7.8,4.53],[-3.6,4.58],[-2.85,4.47],[-7,4.33],[-6.8,4.3],[-3.05,4.12],[-3.3,3.97],[-3.8,3.9],[-3.65,3.78],[-2.8,3.8],[-.95,3.85],[-4,3.43],[-3.25,3.4],[-3.12,3.4],[-7.25,3.25],[-6.35,3.27],[-3.75,3.3],[-3.3,3.18],[-3,3.15],[-2.95,3],[-3.1,2.85],[-2.9,2.8],[-8.3,2.72],[-5.85,2.62],[-3.6,2.72],[-3.45,2.7],[-4.15,2.58],[-.6,2.67],[-.4,2.72],[-6.45,2.52],[-5.7,2.42],[-7,2.32],[-.65,2.5],[-10,.62],[-10,.1],[-9.5,1.15],[-9.3,.2],[-9.3,.05],[-8.95,1.4],[-8.6,.85],[-8.65,.25],[-8.35,.3],[-5.6,1.45],[-4.3,1.42],[-6.8,.95],[-6.55,1.15],[-6.3,1.2],[-6.2,.8],[-6.75,.8],[-6.6,.7],[.1,.42],[-.25,.6],[-.3,1.45],[-.2,.15]];
const nsfBRows=[[.03,-9.9,-9.4,-9,-8.55,-8.1,-7.75,-7.2,-6.9,-6.55,-6.2,-5.85,-5.5,-5.15,-4.8,-4.45,-4.1,-3.75,-3.4,-3.05,-2.7,-2.35,-2,-1.65,-1.3,-.95,-.6,-.2],
[.2,-8.5,-8.1,-7,-6.65,-6.3,-5.95,-5.6,-5.25,-4.9,-4.55,-4.2,-3.85,-3.5,-3.15,-2.8,-2.45,-2.1,-1.75,-1.4,-1.05,-.7,-.4],
[.4,-9.55,-8.95,-8.6,-8.15,-7.8,-6.55,-6.15,-5.8,-5.45,-5.1,-4.75,-4.4,-4.05,-3.7,-3.35,-3,-2.65,-2.3,-1.95,-1.6,-1.25,-.9,-.55,-.3],
[.6,-8.45,-8.05,-7.35,-6.45,-6.05,-5.65,-5.3,-4.9,-4.5,-4.15,-3.8,-3.45,-3.1,-2.75,-2.4,-2.05,-1.7,-1.35,-1,-.65,-.3],
[.8,-9.1,-8.3,-7.1,-6.2,-5.8,-5.45,-5.05,-4.6,-4,-3.65,-3.3,-2.95,-2.6,-2.25,-1.9,-1.55,-1.2,-.85,-.5],
[1,-9.5,-8.9,-8.5,-6.3,-5.95,-5.65,-4.8,-4.4,-3.75,-3.4,-3.05,-2.7,-2.35,-1.9,-1.4,-1.05,-.7,-.3],
[1.2,-9.55,-8.95,-8.4,-8.05,-6.65,-6,-5,-4.1,-3.7,-3.35,-3,-2.65,-2.3,-1.3,-.95,-.6],
[1.45,-8.1,-7.8,-6.6,-5.9,-3.95,-3.65,-3.3,-2.95,-2.6,-2.2,-.75,-.45],
[1.7,-7.7,-7.15,-6.9,-5.6,-5.35,-3.85,-3.55,-3.25,-2.9,-2.6,-2.35,-.95,-.8],
[1.95,-3.6,-3.35,-3.1,-2.8,-2.45,-2.1,-1.5,-.85],
[2.2,-9.6,-3.8,-3.5,-3.2,-2.85,-2.5,-.85,-.55],
[2.5,-9.55,-8,-7.9,-3.4,-3.1,-2.8,-1.9,-1.1,-.7,-.6],
[2.75,-3.3,-3,-2.75,-2.5,-2.1,-.8,-.7]];
const nsfBFill=[[.1,-6.8,-6.45,-6.1,-5.75,-5.4,-5.05,-4.7,-4.35,-4,-3.65,-3.3,-2.95,-2.6,-2.25,-1.9,-1.55,-1.2,-.85,-.5],
[.3,-6.45,-6.05,-5.7,-5.35,-5,-4.65,-4.3,-3.95,-3.6,-3.25,-2.9,-2.55,-2.2,-1.85,-1.5,-1.15,-.8,-.45],
[.5,-6.3,-5.95,-5.55,-5.2,-4.8,-4.45,-4.1,-3.75,-3.4,-3.05,-2.7,-2.35,-2,-1.65,-1.3,-.95,-.6],
[.7,-5.9,-5.5,-5.15,-3.95,-3.6,-3.25,-2.9,-2.55,-2.2,-1.85,-1.5,-1.15,-.8,-.45],
[.9,-3.6,-3.2,-2.85,-2.5,-2.15,-1.75,-1.35,-1,-.65],
[1.1,-3.55,-3.2,-2.85,-2.5],
[1.32,-3.5,-3.15,-2.8,-2.45]];
const nsfBPts=[[-2.55,4.8],[-9.5,4.43],[-8.7,4.43],[-2.25,4.38],[-5.05,4.13],[-1,4.1],[-.45,4.18],[-7.85,4.02],[-5.65,4.02],[-2.55,3.98],[-2,3.85],[-1.7,3.83],[-3.8,3.8],[-3.15,3.85],[-6.65,3.72],[-3.35,3.68],[-3.1,3.6],[-9.2,3.62],[-.8,3.67],[-.5,3.5],[-6,3.45],[-6.65,3.25],[-3.3,3.25],[-3.15,3.15],[-1.45,3.25],[-1.05,3.18],[-1,3.1],[-1.5,3.07],[-5.85,3.08],[-5.75,3.08],[-10,3.15],[-8.05,2.75],[-5.55,2.72],[-2.8,2.95],[-2.6,2.9],[-1.95,2.72],[-.85,2.85],[-.75,2.8],[-1.3,2.35],[-1.75,2.25],[-2,2.5],[-6.4,2.08],[-1.5,2],[-10,1.28],[-10,.78],[-10,.3],[-7.05,.85],[-6.9,.85],[-1.9,1.5],[-7.9,1.55],[-8.1,1.45],[-.2,.95],[-.25,.5]];
const mafBRows=[[-.6,-5.1,-4.4,-4.2,-3.9,-3.65,-3.1,-2.95,-2.2,-1.95,-1.7,-1.45,-1.1],
[-.4,-6,-5.4,-4.9,-4.35,-4.05,-3.7,-3.3,-2.9,-2.6,-2.3,-2.05,-1.8,-1.5,-1.15,-.8],
[-.2,-6.6,-5.7,-5.3,-5,-4.6,-4.25,-3.95,-3.6,-3.2,-2.8,-2.5,-2.2,-1.9,-1.6,-1.3,-1,-.55],
[0,-7.3,-6.8,-6.4,-5.9,-5.2,-4.85,-4.5,-4.15,-3.8,-3.4,-3,-2.7,-2.35,-2.05,-1.7,-1.4,-1.1,-.8,-.4],
[.2,-7.6,-7,-5.75,-5.4,-5.05,-4.7,-4.35,-4,-3.65,-3.3,-3,-2.65,-2.3,-1.95,-1.6,-1.3,-1,-.6,.6],
[.4,-6.25,-5.85,-5.5,-5.15,-4.8,-4.45,-4.1,-3.75,-3.4,-3.05,-2.7,-2.35,-2,-1.65,-1.35,-1.05,-.7,.2,.5],
[.6,-7.3,-6.4,-5.95,-5.6,-5.3,-4.9,-4.55,-4.2,-3.85,-3.5,-3.15,-2.8,-2.45,-2.1,-1.75,-1.45,-1.1,-.75,-.4,.35,.65],
[.8,-6.95,-6.5,-6.1,-5.7,-5.4,-5,-4.65,-4.3,-3.95,-3.6,-3.25,-2.9,-2.55,-2.2,-1.85,-1.5,-1.2,-.85,-.5,-.1],
[1,-7.2,-6.75,-5.9,-5.6,-5.3,-4.95,-4.5,-4,-3.65,-3.3,-2.95,-2.6,-2.25,-1.9,-1.5,-1.05,-.7,-.35,.1,.55],
[1.2,-7.2,-6.85,-6.15,-5.8,-5.45,-5.1,-3.9,-3.6,-3.25,-2.9,-2.55,-2.2,-1.85,-1.35,-1,-.6,-.2,.2,.7],
[1.45,-7.45,-7,-6.6,-6.25,-5.9,-5.5,-5.15,-4.2,-3.85,-3.5,-3.15,-2.8,-2.45,-2.1,-1.25,-.85,-.5,-.1,.35],
[1.7,-7.4,-6.8,-6.2,-5.8,-5.1,-4.7,-3.9,-3.55,-3.2,-2.85,-2.5,-2.2,-1.1,-.75,-.4,0,.45],
[1.95,-7.45,-7.2,-6.85,-5.85,-5.05,-4.75,-3.7,-3.35,-3,-2.65,-2.4,-2.05,-.9,-.6,-.25,.05],
[2.2,-6.3,-6,-5.8,-3.5,-3.2,-2.85,-2.5,-2.3,-.6,-.2,.3],
[2.5,-3.4,-3.15,-2.85,-2.5,-.45]];
const mafBFill=[[.1,-5.5,-5.2,-4.85,-4.5,-4.2,-3.85,-3.5,-3.15,-2.85,-2.5,-2.15,-1.8,-1.45,-1.15,-.8],
[.3,-5.6,-5.25,-4.9,-4.6,-4.25,-3.9,-3.55,-3.2,-2.85,-2.55,-2.2,-1.85,-1.5,-1.2,-.85],
[.5,-5.5,-5.15,-4.8,-4.45,-4.1,-3.75,-3.4,-3.05,-2.7,-2.35,-2,-1.65,-1.3,-.95],
[.7,-5.4,-5.05,-4.7,-4.35,-4,-3.65,-3.3,-2.95,-2.6,-2.25,-1.9,-1.55,-1.25],
[.9,-4.5,-4.1,-3.75,-3.4,-3.05,-2.7,-2.35,-2,-1.65,-1.3],
[-.1,-4.75,-4.4,-4.05,-3.7,-3.35,-2.95,-2.55,-2.2,-1.85,-1.55,-1.2],
[1.1,-3.8,-3.45,-3.1,-2.75,-2.4,-2.05],
[1.35,-3.65,-3.3,-3,-2.65,-2.3]];
const mafBPts=[[-3.45,4.32],[-.05,3.22],[.1,2.93],[-6.2,3],[-3.3,3.02],[-3.45,2.95],[-3.6,2.85],[-3.05,3],[-3.15,2.85],[-3.1,2.72],[-.1,2.72],[-5.6,2.67],[-6.5,2.6],[-2.25,2.6],[-.45,2.47],[-8.05,2.37],[-7.3,2.38],[-6.9,2.27],[-6.25,2.2],[.35,2.25],[-8.4,1.85],[-8.65,1.5],[-9.1,1.3],[-9.6,1],[-9.55,.85],[-8.85,1.05],[-10,.45],[-9.8,.35],[-9.4,.5],[-9.35,.35],[-8.9,.32],[-9.6,.05],[-8.4,.68],[-8.3,.5],[-8.25,.3],[-7.9,.55],[-7.95,.32],[-7.95,-.1],[-8,-.2],[-8.35,-.3],[-8.65,-.78],[-8.75,-1.05],[-8.25,-1.03],[-7.55,-.93],[-7.2,-.5],[-7.05,-.48],[-6.8,-.3],[-5.8,-.5],[-5.1,-.75],[-4.7,-.82],[-4.55,-1.02],[-3.45,-.95],[-3.45,-1.4],[-2.65,-.87],[-2.7,-1.3],[-2.5,-1.3],[-2.15,-1.02],[-1.05,-.92],[-.85,-.85],[-.7,-1.05],[-.7,-1.27],[-.1,-.9],[.25,-1.35],[.45,-.58],[-.1,-.6],[-.2,-.25],[.75,-.2],[1.4,-.5],[1.5,-.5],[1.55,.05],[1.6,.6],[1.75,.25],[2,.22],[.9,.4],[1.1,.5]];
const panels=[gtARows.concat(gtAFill),scfmARows.concat(scfmAFill),pcfmARows.concat(pcfmAFill),nsfARows.concat(nsfAFill),mafARows.concat(mafAFill),gtBRows.concat(gtBFill),scfmBRows.concat(scfmBFill),pcfmBRows.concat(pcfmBFill),nsfBRows.concat(nsfBFill),mafBRows.concat(mafBFill)];
const panelPts=[gtAPts,scfmAPts,pcfmAPts,nsfAPts,mafAPts,gtBPts,scfmBPts,pcfmBPts,nsfBPts,mafBPts];

const lefts=[38.5,307.5,576.5,845.5,1114.5], width=224;
const tops=[3,409.5], height=239.5;
const titleCx=[149.5,424,687.5,957.5,1225], titleY=[290,697.5];
const minus=v=>String(v).replace('-','\u2212');
const grid=[],xAxis=[],yAxis=[],series=[],title=[];
panels.forEach((rows,i)=>{
  const r=i<5?0:1,c=i%5,ticks=r?xTicksB:xTicksA;
  grid.push({left:lefts[c],top:tops[r],width,height,show:true,borderColor:'#707070',borderWidth:1,backgroundColor:'#fff'});
  const line={show:true,onZero:false,lineStyle:{color:'#707070',width:1}};
  xAxis.push({type:'value',gridIndex:i,min:ticks[0],max:ticks[ticks.length-1],name:'x3',nameLocation:'middle',nameGap:18,
    nameTextStyle:{fontSize:8.5,color:'#555',fontFamily:'DejaVu Sans'},splitLine:{show:false},axisLine:line,
    axisTick:{show:true,length:3,customValues:ticks,lineStyle:{color:'#555'}},
    axisLabel:{customValues:ticks,fontSize:9,color:'#444',fontFamily:'DejaVu Sans',margin:6,hideOverlap:false,showMinLabel:true,showMaxLabel:true,formatter:minus}});
  yAxis.push({type:'value',gridIndex:i,min:-2.5,max:6.5,name:'x4',nameLocation:'middle',nameGap:22,
    nameTextStyle:{fontSize:8.5,color:'#555',fontFamily:'DejaVu Sans'},splitLine:{show:false},axisLine:line,
    axisTick:{show:true,length:3,customValues:yTicks,lineStyle:{color:'#555'}},
    axisLabel:{customValues:yTicks,fontSize:9,color:'#444',fontFamily:'DejaVu Sans',margin:5,hideOverlap:false,formatter:minus}});
  const data=[];
  rows.forEach(row=>row.slice(1).forEach(x=>data.push([x,row[0]])));
  panelPts[i].forEach(p=>data.push(p));
  series.push({type:'scatter',xAxisIndex:i,yAxisIndex:i,data,symbol:'circle',symbolSize:7.5,clip:true,silent:true,animation:false,large:false,
    itemStyle:{color:'#0570ae',opacity:1}});
  title.push({text:methods[c],left:titleCx[c],top:titleY[r]-12,padding:0,textAlign:'center',
    textStyle:{fontFamily:'Liberation Sans',fontSize:20.5,fontWeight:'normal',color:'#000',textBorderColor:'#000',textBorderWidth:.5,lineHeight:24}});
});
const serif={fontFamily:'Liberation Serif',fontSize:24.6,fontWeight:'normal',color:'#111',lineHeight:30};
const rich={r:{...serif},i:{...serif,fontStyle:'italic'},s:{...serif,fontSize:16,verticalAlign:'top',lineHeight:24},p:{...serif,fontSize:32,lineHeight:30}};
function caption(tag,n,val,y){
  return {text:`{r|(${tag}) Scatter plots of }{i|x}{s|3}{r| and }{i|x}{s|4}{r| from the Y, Nonadditive dataset under the intervention do }{p|(}{i|x}{s|${n}}{r| = ${val}}{p|)}`,
    left:673.5,top:y-19,textAlign:'center',textStyle:{rich,fontWeight:'normal'}};
}
title.push(caption('a',1,'0.68',321),caption('b',2,'0.67',728));
const chart=echarts.init(document.getElementById('c'),null,{renderer:'canvas'});
chart.setOption({animation:false,backgroundColor:'#fff',title,grid,xAxis,yAxis,series});
</script></body></html>
